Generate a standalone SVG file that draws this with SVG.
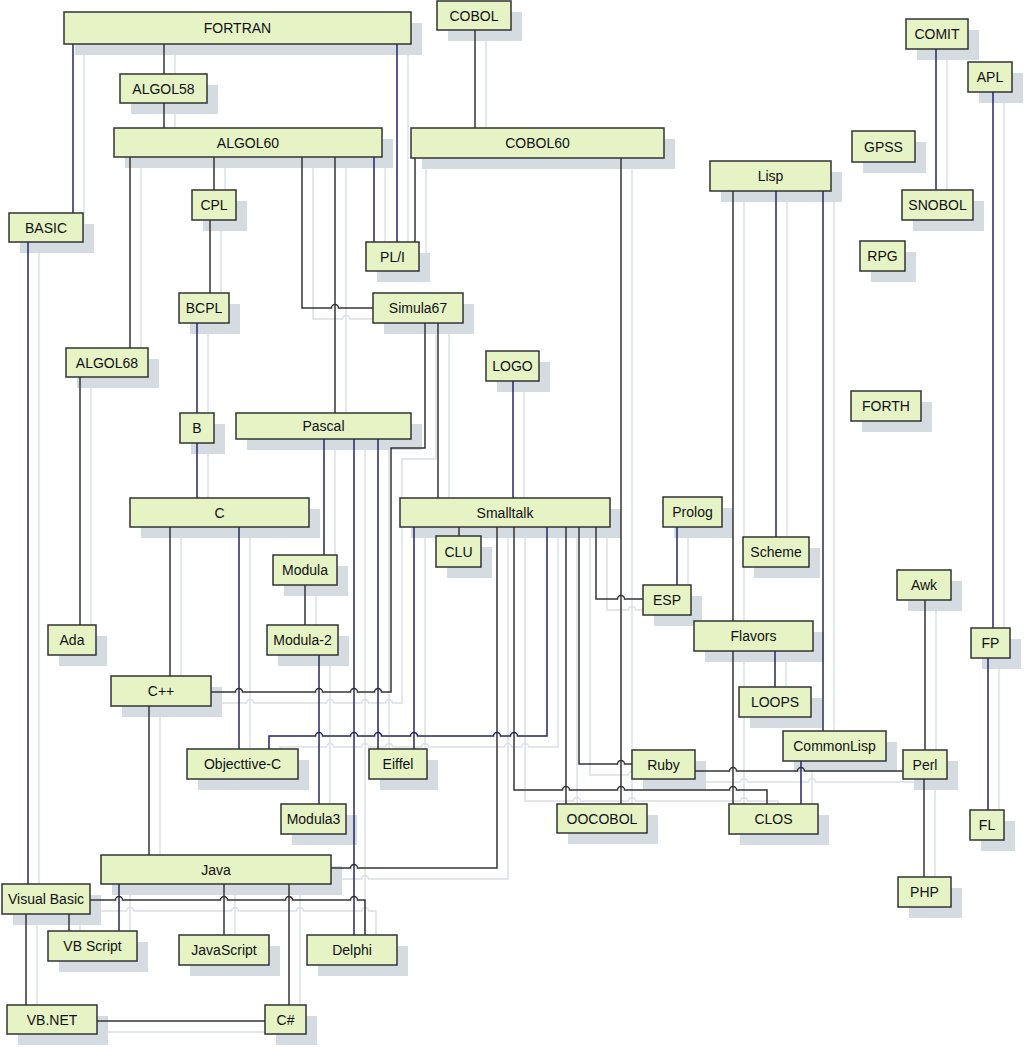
<svg xmlns="http://www.w3.org/2000/svg" width="1024" height="1047" viewBox="0 0 1024 1047">
<style>
.ln{fill:none;stroke-width:1.5}
.dk{stroke:var(--dk,#343434)}
.bl{stroke:var(--bl,#262666)}
.box{fill:#e5f3c5;stroke:#333;stroke-width:1.5}
.sh{fill:#d5dce1}
.lbl{font-family:"Liberation Sans",Arial,sans-serif;font-size:14px;fill:#111;text-anchor:middle}
</style>
<rect width="1024" height="1047" fill="#fff"/>
<g id="shadows">
<use href="#connectors" transform="translate(11,11)" style="--dk:#dae0e4;--bl:#dae0e4"/>
<rect class="sh" x="75" y="23" width="347" height="32"/>
<rect class="sh" x="448" y="12" width="74" height="29"/>
<rect class="sh" x="131" y="85" width="87" height="29"/>
<rect class="sh" x="125" y="139" width="268" height="29"/>
<rect class="sh" x="422" y="139" width="253" height="30"/>
<rect class="sh" x="203" y="201" width="44" height="30"/>
<rect class="sh" x="20" y="224" width="74" height="29"/>
<rect class="sh" x="377" y="253" width="53" height="29"/>
<rect class="sh" x="917" y="30" width="62" height="30"/>
<rect class="sh" x="979" y="73" width="44" height="30"/>
<rect class="sh" x="863" y="142" width="63" height="31"/>
<rect class="sh" x="721" y="172" width="121" height="30"/>
<rect class="sh" x="913" y="201" width="71" height="30"/>
<rect class="sh" x="871" y="252" width="45" height="30"/>
<rect class="sh" x="190" y="304" width="50" height="30"/>
<rect class="sh" x="384" y="304" width="90" height="30"/>
<rect class="sh" x="77" y="359" width="82" height="29"/>
<rect class="sh" x="497" y="362" width="53" height="30"/>
<rect class="sh" x="862" y="402" width="70" height="30"/>
<rect class="sh" x="191" y="424" width="34" height="30"/>
<rect class="sh" x="247" y="424" width="175" height="26"/>
<rect class="sh" x="141" y="509" width="179" height="29"/>
<rect class="sh" x="411" y="509" width="210" height="29"/>
<rect class="sh" x="674" y="508" width="59" height="30"/>
<rect class="sh" x="447" y="547" width="45" height="31"/>
<rect class="sh" x="754" y="548" width="66" height="30"/>
<rect class="sh" x="284" y="566" width="64" height="30"/>
<rect class="sh" x="908" y="581" width="54" height="30"/>
<rect class="sh" x="654" y="596" width="48" height="30"/>
<rect class="sh" x="59" y="636" width="48" height="30"/>
<rect class="sh" x="278" y="636" width="71" height="30"/>
<rect class="sh" x="705" y="632" width="119" height="30"/>
<rect class="sh" x="982" y="639" width="39" height="30"/>
<rect class="sh" x="122" y="687" width="100" height="30"/>
<rect class="sh" x="750" y="698" width="72" height="30"/>
<rect class="sh" x="794" y="742" width="103" height="30"/>
<rect class="sh" x="198" y="760" width="111" height="30"/>
<rect class="sh" x="380" y="760" width="58" height="30"/>
<rect class="sh" x="643" y="761" width="63" height="29"/>
<rect class="sh" x="914" y="761" width="44" height="29"/>
<rect class="sh" x="292" y="815" width="65" height="30"/>
<rect class="sh" x="568" y="815" width="90" height="29"/>
<rect class="sh" x="740" y="815" width="89" height="30"/>
<rect class="sh" x="981" y="821" width="34" height="30"/>
<rect class="sh" x="112" y="866" width="230" height="29"/>
<rect class="sh" x="909" y="888" width="53" height="30"/>
<rect class="sh" x="13" y="895" width="88" height="30"/>
<rect class="sh" x="59" y="942" width="89" height="30"/>
<rect class="sh" x="190" y="946" width="90" height="30"/>
<rect class="sh" x="318" y="946" width="90" height="30"/>
<rect class="sh" x="18" y="1016" width="90" height="29"/>
<rect class="sh" x="276" y="1016" width="41" height="29"/>
</g>
<g id="connectors" class="ln">
<g class="dk">
<path d="M164 44V74"/>
<path d="M164 103V128"/>
<path d="M475 30V128"/>
<path d="M415 158V242"/>
<path d="M621 158V804"/>
<path d="M130 157V348"/>
<path d="M214 157V190"/>
<path d="M210 220V293"/>
<path d="M302 157V308H331.5a3.5 3.5 0 0 1 7 0H373"/>
<path d="M335 157V413"/>
<path d="M211 692H235.5a3.5 3.5 0 0 1 7 0H315.5a3.5 3.5 0 0 1 7 0H350.5a3.5 3.5 0 0 1 7 0H374.5a3.5 3.5 0 0 1 7 0H391V448H425V323"/>
<path d="M438 323V498"/>
<path d="M305 585V625"/>
<path d="M170 527V676"/>
<path d="M149 706V855"/>
<path d="M331 868H350.5a3.5 3.5 0 0 1 7 0H497V527"/>
<path d="M459 527V536"/>
<path d="M514 527V790H562.5a3.5 3.5 0 0 1 7 0H617.5a3.5 3.5 0 0 1 7 0H729.5a3.5 3.5 0 0 1 7 0H767V804"/>
<path d="M566 527V804"/>
<path d="M579 527V764H617.5a3.5 3.5 0 0 1 7 0H632"/>
<path d="M596 527V599H617.5a3.5 3.5 0 0 1 7 0H643"/>
<path d="M733 191V621"/>
<path d="M733 651V804"/>
<path d="M695 771H729.5a3.5 3.5 0 0 1 7 0H797.5a3.5 3.5 0 0 1 7 0H903"/>
<path d="M925 600V750"/>
<path d="M924 779V877"/>
<path d="M80 377V625"/>
<path d="M69 914V931"/>
<path d="M26 914V1005"/>
<path d="M224 884V935"/>
<path d="M289 884V1005"/>
<path d="M97 1021H265"/>
<path d="M90 900H115.5a3.5 3.5 0 0 1 7 0H220.5a3.5 3.5 0 0 1 7 0H285.5a3.5 3.5 0 0 1 7 0H350.5a3.5 3.5 0 0 1 7 0H365V935"/>
</g>
<g class="bl">
<path d="M73 44V213"/>
<path d="M397 44V242"/>
<path d="M374 157V242"/>
<path d="M197 323V413"/>
<path d="M197 443V498"/>
<path d="M513 381V498"/>
<path d="M324 439V555"/>
<path d="M319 655V804"/>
<path d="M354 439V935"/>
<path d="M378 439V749"/>
<path d="M414 527V749"/>
<path d="M239 527V749"/>
<path d="M269 749V736H315.5a3.5 3.5 0 0 1 7 0H350.5a3.5 3.5 0 0 1 7 0H374.5a3.5 3.5 0 0 1 7 0H410.5a3.5 3.5 0 0 1 7 0H493.5a3.5 3.5 0 0 1 7 0H510.5a3.5 3.5 0 0 1 7 0H547V527"/>
<path d="M677 527V585"/>
<path d="M776 191V537"/>
<path d="M823 191V731"/>
<path d="M775 651V687"/>
<path d="M801 761V804"/>
<path d="M936 49V190"/>
<path d="M993 92V628"/>
<path d="M988 658V810"/>
<path d="M28 242V884"/>
<path d="M119 884V931"/>
</g>
</g>
<g id="n-fortran"><rect class="box" x="64" y="12" width="347" height="32"/><text class="lbl" x="237.5" y="33">FORTRAN</text></g>
<g id="n-cobol"><rect class="box" x="437" y="1" width="74" height="29"/><text class="lbl" x="474" y="20.5">COBOL</text></g>
<g id="n-algol58"><rect class="box" x="120" y="74" width="87" height="29"/><text class="lbl" x="163.5" y="93.5">ALGOL58</text></g>
<g id="n-algol60"><rect class="box" x="114" y="128" width="268" height="29"/><text class="lbl" x="248" y="147.5">ALGOL60</text></g>
<g id="n-cobol60"><rect class="box" x="411" y="128" width="253" height="30"/><text class="lbl" x="537.5" y="148">COBOL60</text></g>
<g id="n-cpl"><rect class="box" x="192" y="190" width="44" height="30"/><text class="lbl" x="214" y="210">CPL</text></g>
<g id="n-basic"><rect class="box" x="9" y="213" width="74" height="29"/><text class="lbl" x="46" y="232.5">BASIC</text></g>
<g id="n-pli"><rect class="box" x="366" y="242" width="53" height="29"/><text class="lbl" x="392.5" y="261.5">PL/I</text></g>
<g id="n-comit"><rect class="box" x="906" y="19" width="62" height="30"/><text class="lbl" x="937" y="39">COMIT</text></g>
<g id="n-apl"><rect class="box" x="968" y="62" width="44" height="30"/><text class="lbl" x="990" y="82">APL</text></g>
<g id="n-gpss"><rect class="box" x="852" y="131" width="63" height="31"/><text class="lbl" x="883.5" y="151.5">GPSS</text></g>
<g id="n-lisp"><rect class="box" x="710" y="161" width="121" height="30"/><text class="lbl" x="770.5" y="181">Lisp</text></g>
<g id="n-snobol"><rect class="box" x="902" y="190" width="71" height="30"/><text class="lbl" x="937.5" y="210">SNOBOL</text></g>
<g id="n-rpg"><rect class="box" x="860" y="241" width="45" height="30"/><text class="lbl" x="882.5" y="261">RPG</text></g>
<g id="n-bcpl"><rect class="box" x="179" y="293" width="50" height="30"/><text class="lbl" x="204" y="313">BCPL</text></g>
<g id="n-simula67"><rect class="box" x="373" y="293" width="90" height="30"/><text class="lbl" x="418" y="313">Simula67</text></g>
<g id="n-algol68"><rect class="box" x="66" y="348" width="82" height="29"/><text class="lbl" x="107" y="367.5">ALGOL68</text></g>
<g id="n-logo"><rect class="box" x="486" y="351" width="53" height="30"/><text class="lbl" x="512.5" y="371">LOGO</text></g>
<g id="n-forth"><rect class="box" x="851" y="391" width="70" height="30"/><text class="lbl" x="886" y="411">FORTH</text></g>
<g id="n-b"><rect class="box" x="180" y="413" width="34" height="30"/><text class="lbl" x="197" y="433">B</text></g>
<g id="n-pascal"><rect class="box" x="236" y="413" width="175" height="26"/><text class="lbl" x="323.5" y="431">Pascal</text></g>
<g id="n-c"><rect class="box" x="130" y="498" width="179" height="29"/><text class="lbl" x="219.5" y="517.5">C</text></g>
<g id="n-smalltalk"><rect class="box" x="400" y="498" width="210" height="29"/><text class="lbl" x="505" y="517.5">Smalltalk</text></g>
<g id="n-prolog"><rect class="box" x="663" y="497" width="59" height="30"/><text class="lbl" x="692.5" y="517">Prolog</text></g>
<g id="n-clu"><rect class="box" x="436" y="536" width="45" height="31"/><text class="lbl" x="458.5" y="556.5">CLU</text></g>
<g id="n-scheme"><rect class="box" x="743" y="537" width="66" height="30"/><text class="lbl" x="776" y="557">Scheme</text></g>
<g id="n-modula"><rect class="box" x="273" y="555" width="64" height="30"/><text class="lbl" x="305" y="575">Modula</text></g>
<g id="n-awk"><rect class="box" x="897" y="570" width="54" height="30"/><text class="lbl" x="924" y="590">Awk</text></g>
<g id="n-esp"><rect class="box" x="643" y="585" width="48" height="30"/><text class="lbl" x="667" y="605">ESP</text></g>
<g id="n-ada"><rect class="box" x="48" y="625" width="48" height="30"/><text class="lbl" x="72" y="645">Ada</text></g>
<g id="n-modula2"><rect class="box" x="267" y="625" width="71" height="30"/><text class="lbl" x="302.5" y="645">Modula-2</text></g>
<g id="n-flavors"><rect class="box" x="694" y="621" width="119" height="30"/><text class="lbl" x="753.5" y="641">Flavors</text></g>
<g id="n-fp"><rect class="box" x="971" y="628" width="39" height="30"/><text class="lbl" x="990.5" y="648">FP</text></g>
<g id="n-cpp"><rect class="box" x="111" y="676" width="100" height="30"/><text class="lbl" x="161" y="696">C++</text></g>
<g id="n-loops"><rect class="box" x="739" y="687" width="72" height="30"/><text class="lbl" x="775" y="707">LOOPS</text></g>
<g id="n-commonlisp"><rect class="box" x="783" y="731" width="103" height="30"/><text class="lbl" x="834.5" y="751">CommonLisp</text></g>
<g id="n-objc"><rect class="box" x="187" y="749" width="111" height="30"/><text class="lbl" x="242.5" y="769">Objecttive-C</text></g>
<g id="n-eiffel"><rect class="box" x="369" y="749" width="58" height="30"/><text class="lbl" x="398" y="769">Eiffel</text></g>
<g id="n-ruby"><rect class="box" x="632" y="750" width="63" height="29"/><text class="lbl" x="663.5" y="769.5">Ruby</text></g>
<g id="n-perl"><rect class="box" x="903" y="750" width="44" height="29"/><text class="lbl" x="925" y="769.5">Perl</text></g>
<g id="n-modula3"><rect class="box" x="281" y="804" width="65" height="30"/><text class="lbl" x="313.5" y="824">Modula3</text></g>
<g id="n-oocobol"><rect class="box" x="557" y="804" width="90" height="29"/><text class="lbl" x="602" y="823.5">OOCOBOL</text></g>
<g id="n-clos"><rect class="box" x="729" y="804" width="89" height="30"/><text class="lbl" x="773.5" y="824">CLOS</text></g>
<g id="n-fl"><rect class="box" x="970" y="810" width="34" height="30"/><text class="lbl" x="987" y="830">FL</text></g>
<g id="n-java"><rect class="box" x="101" y="855" width="230" height="29"/><text class="lbl" x="216" y="874.5">Java</text></g>
<g id="n-php"><rect class="box" x="898" y="877" width="53" height="30"/><text class="lbl" x="924.5" y="897">PHP</text></g>
<g id="n-vb"><rect class="box" x="2" y="884" width="88" height="30"/><text class="lbl" x="46" y="904">Visual Basic</text></g>
<g id="n-vbscript"><rect class="box" x="48" y="931" width="89" height="30"/><text class="lbl" x="92.5" y="951">VB Script</text></g>
<g id="n-javascript"><rect class="box" x="179" y="935" width="90" height="30"/><text class="lbl" x="224" y="955">JavaScript</text></g>
<g id="n-delphi"><rect class="box" x="307" y="935" width="90" height="30"/><text class="lbl" x="352" y="955">Delphi</text></g>
<g id="n-vbnet"><rect class="box" x="7" y="1005" width="90" height="29"/><text class="lbl" x="52" y="1024.5">VB.NET</text></g>
<g id="n-csharp"><rect class="box" x="265" y="1005" width="41" height="29"/><text class="lbl" x="285.5" y="1024.5">C#</text></g>
</svg>
